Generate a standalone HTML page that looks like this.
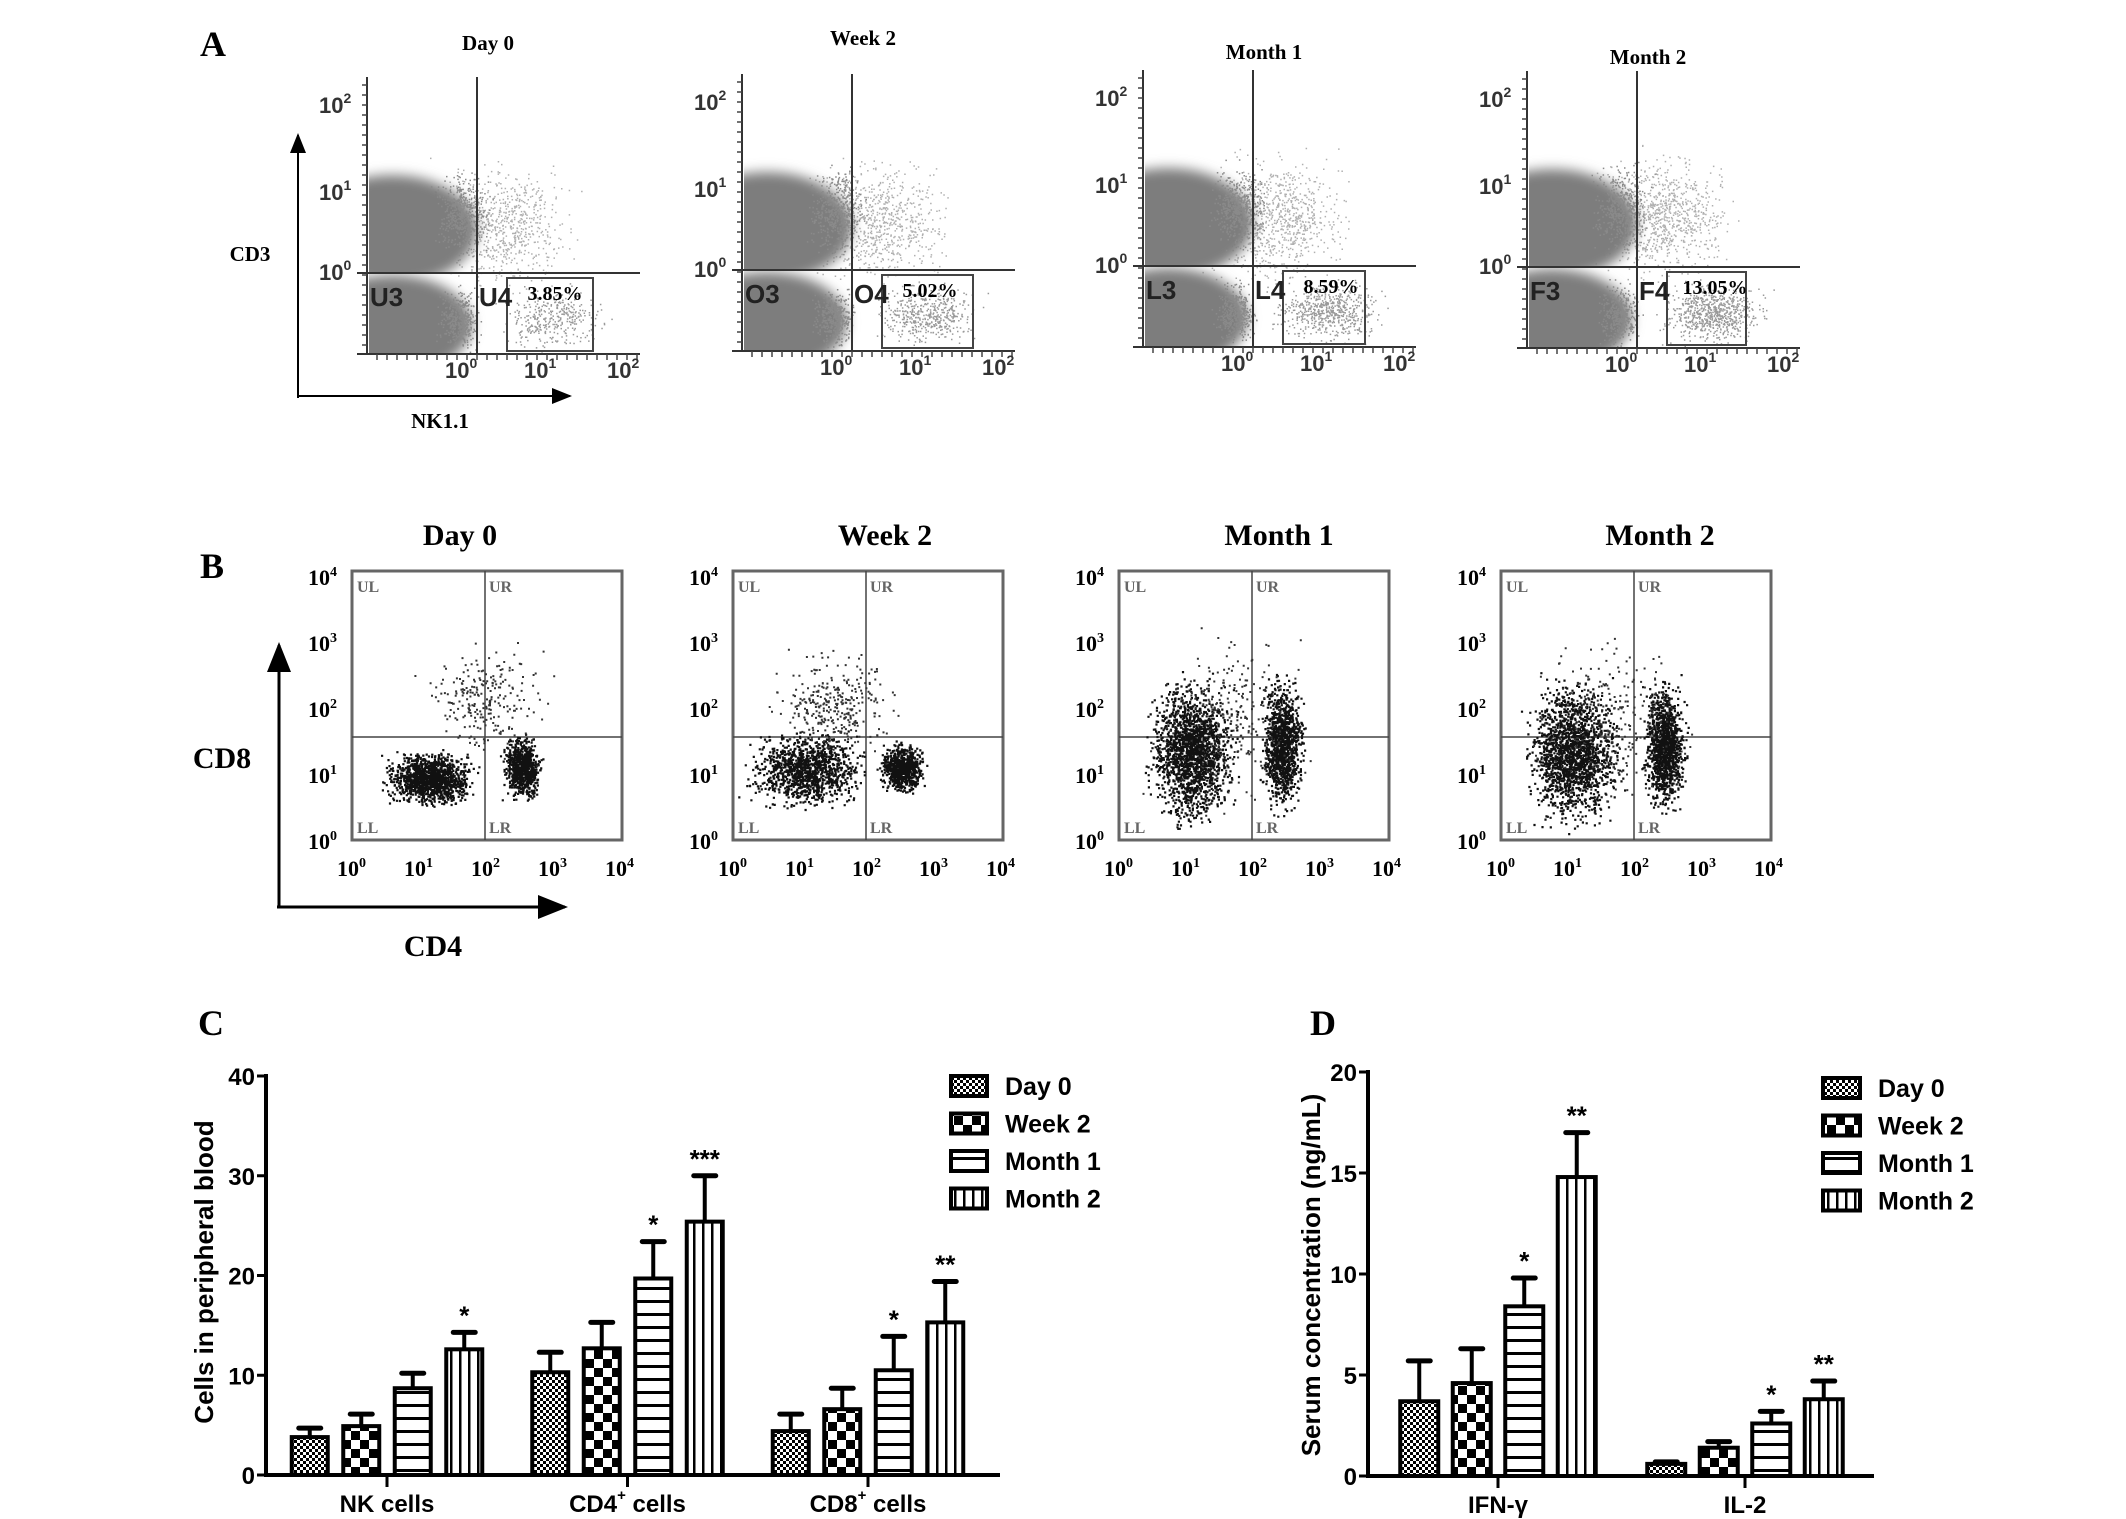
<!DOCTYPE html>
<html><head><meta charset="utf-8">
<style>
html,body{margin:0;padding:0;background:#fff;}
body{width:2126px;height:1519px;overflow:hidden;position:relative;}
svg{position:absolute;left:0;top:0;}
.serif{font-family:"Liberation Serif",serif;font-weight:bold;}
.sans{font-family:"Liberation Sans",sans-serif;font-weight:bold;}
</style></head>
<body>
<svg id="fig" width="2126" height="1519" viewBox="0 0 2126 1519">
<defs>
  <filter id="blur6" x="-50%" y="-50%" width="200%" height="200%"><feGaussianBlur stdDeviation="6"/></filter>
  <filter id="blur4" x="-50%" y="-50%" width="200%" height="200%"><feGaussianBlur stdDeviation="4"/></filter>
  <pattern id="p-day0" width="6" height="6" patternUnits="userSpaceOnUse"><rect width="6" height="6" fill="#fff"/><rect width="3" height="3" fill="#000"/><rect x="3" y="3" width="3" height="3" fill="#000"/></pattern>
  <pattern id="p-week2" width="18" height="18" patternUnits="userSpaceOnUse"><rect width="18" height="18" fill="#fff"/><rect width="9" height="9" fill="#000"/><rect x="9" y="9" width="9" height="9" fill="#000"/></pattern>
  <pattern id="p-month1" width="10" height="13" patternUnits="userSpaceOnUse"><rect width="10" height="13" fill="#fff"/><rect y="0" width="10" height="3" fill="#000"/></pattern>
  <pattern id="p-month2" width="9" height="10" patternUnits="userSpaceOnUse"><rect width="9" height="10" fill="#fff"/><rect x="0" width="2.5" height="10" fill="#000"/></pattern>
  <marker id="arr" markerWidth="10" markerHeight="8" refX="9" refY="4" orient="auto"><path d="M0,0 L10,4 L0,8 Z" fill="#000"/></marker>
</defs>

<text x="200" y="56" class="serif" font-size="36">A</text>
<text x="200" y="578" class="serif" font-size="36">B</text>
<text x="198" y="1035" class="serif" font-size="36">C</text>
<text x="1310" y="1035" class="serif" font-size="36">D</text>

<line x1="298" y1="398" x2="298" y2="135" stroke="#000" stroke-width="2" marker-end="url(#arr)"/>
<line x1="298" y1="396" x2="570" y2="396" stroke="#000" stroke-width="2" marker-end="url(#arr)"/>
<text x="250" y="261" class="serif" font-size="21" text-anchor="middle" font-weight="normal">CD3</text>
<text x="440" y="428" class="serif" font-size="21" text-anchor="middle" font-weight="normal">NK1.1</text>

<line x1="279" y1="906" x2="279" y2="645" stroke="#000" stroke-width="3" marker-end="url(#arr)"/>
<line x1="277" y1="907" x2="565" y2="907" stroke="#000" stroke-width="3" marker-end="url(#arr)"/>
<text x="222" y="768" class="serif" font-size="30" text-anchor="middle">CD8</text>
<text x="433" y="956" class="serif" font-size="30" text-anchor="middle">CD4</text>

<g id="flowA"></g>
<g id="flowB"></g>
<g id="chartC"></g>
<g id="chartD"></g>
</svg>

<script>
// ---------- Chart C data ----------
const cCategories = ["NK cells", "CD4+ cells", "CD8+ cells"];
const seriesNames = ["Day 0", "Week 2", "Month 1", "Month 2"];
const cDay0 = [3.8, 10.3, 4.4];
const cWeek2 = [4.9, 12.7, 6.6];
const cMonth1 = [8.7, 19.7, 10.5];
const cMonth2 = [12.6, 25.4, 15.3];
const cErrDay0 = [0.9, 2.0, 1.7];
const cErrWeek2 = [1.2, 2.6, 2.1];
const cErrMonth1 = [1.5, 3.7, 3.4];
const cErrMonth2 = [1.7, 4.6, 4.1];
const cStarsMonth1 = ["", "*", "*"];
const cStarsMonth2 = ["*", "***", "**"];
const cTicks = [0, 10, 20, 30, 40];

// ---------- Chart D data ----------
const dCategories = ["IFN-γ", "IL-2"];
const dDay0 = [3.7, 0.6];
const dWeek2 = [4.6, 1.4];
const dMonth1 = [8.4, 2.6];
const dMonth2 = [14.8, 3.8];
const dErrDay0 = [2.0, 0.1];
const dErrWeek2 = [1.7, 0.3];
const dErrMonth1 = [1.4, 0.6];
const dErrMonth2 = [2.2, 0.9];
const dStarsMonth1 = ["*", "*"];
const dStarsMonth2 = ["**", "**"];
const dTicks = [0, 5, 10, 15, 20];

const NS = "http://www.w3.org/2000/svg";
function mk(tag, attrs, parent) {
  const e = document.createElementNS(NS, tag);
  for (const k in attrs) e.setAttribute(k, attrs[k]);
  parent.appendChild(e);
  return e;
}
const patterns = ["url(#p-day0)", "url(#p-week2)", "url(#p-month1)", "url(#p-month2)"];

function barChart(g, cfg) {
  const yScale = v => cfg.y0 - (v / cfg.yMax) * (cfg.y0 - cfg.yTop);
  const xGroup = i => cfg.gx0 + i * cfg.gStep;
  const ya = mk("line", {x1: cfg.ax, y1: cfg.yTop - 2, x2: cfg.ax, y2: cfg.y0 + 2, stroke: "#000", "stroke-width": 4}, g);
  
  
  const xa = mk("line", {x1: cfg.ax, y1: cfg.y0, x2: cfg.axEnd, y2: cfg.y0, stroke: "#000", "stroke-width": 4}, g);
  
  
  cfg.ticks.forEach(t => {
    const y = yScale(t);
    const tl = mk("line", {x1: cfg.ax - 9, y1: y, x2: cfg.ax, y2: y, stroke: "#000", "stroke-width": 3}, g);
    
    
    const tx = mk("text", {x: cfg.ax - 11, y: y + 9, "text-anchor": "end", class: "sans", "font-size": 24}, g);
    tx.textContent = t;
    
    
  });
  const yt = mk("text", {x: 0, y: 0, "text-anchor": "middle", class: "sans", "font-size": 26, transform: `translate(${cfg.ytx},${cfg.yty}) rotate(-90)`}, g);
  yt.textContent = cfg.yTitle;
  
  
  cfg.categories.forEach((c, i) => {
    const cx = xGroup(i);
    const tk = mk("line", {x1: cx, y1: cfg.y0, x2: cx, y2: cfg.y0 + 12, stroke: "#000", "stroke-width": 3}, g);
    
    
    const lab = mk("text", {x: cx, y: cfg.y0 + 37, "text-anchor": "middle", class: "sans", "font-size": 24}, g);
    
    
    if (c.endsWith("+ cells")) {
      const base = c.replace("+ cells", "");
      lab.textContent = base;
      const sup = mk("tspan", {"font-size": 15, dy: -12}, lab); sup.textContent = "+";
      const rest = mk("tspan", {dy: 12}, lab); rest.textContent = "  cells";
    } else lab.textContent = c;
    cfg.series.forEach((vals, s) => {
      const v = vals[i], e = cfg.errs[s][i];
      const bx = cx + (s - 1.5) * cfg.pitch - cfg.bw / 2;
      const top = yScale(v);
      const eTop = yScale(v + e);
      const el = mk("line", {x1: bx + cfg.bw / 2, y1: top, x2: bx + cfg.bw / 2, y2: eTop, stroke: "#000", "stroke-width": 4}, g);
      
      
      const cap = mk("line", {x1: bx + cfg.bw / 2 - 11, y1: eTop, x2: bx + cfg.bw / 2 + 11, y2: eTop, stroke: "#000", "stroke-width": 5, "stroke-linecap": "round"}, g);
      
      
      const r = mk("rect", {x: bx, y: top, width: cfg.bw, height: cfg.y0 - top, fill: patterns[s], stroke: "#000", "stroke-width": 4}, g);
      
      
      const star = cfg.stars[s] ? cfg.stars[s][i] : "";
      if (star) {
        const st = mk("text", {x: bx + cfg.bw / 2, y: eTop - 8, "text-anchor": "middle", class: "sans", "font-size": 26}, g);
        st.textContent = star;
        
        
      }
    });
  });
  seriesNames.forEach((n, s) => {
    const y = cfg.legY + s * 37.5;
    const b = mk("rect", {x: cfg.legX, y: y - 10, width: cfg.legW, height: 20, fill: patterns[s], stroke: "#000", "stroke-width": 4}, g);
    
    
    const t = mk("text", {x: cfg.legX + cfg.legW + 18, y: y + 9, class: "sans", "font-size": 25}, g);
    t.textContent = n;
    
    
  });
}

barChart(document.getElementById("chartC"), {
  prefix: "c", categories: cCategories,
  series: [cDay0, cWeek2, cMonth1, cMonth2],
  errs: [cErrDay0, cErrWeek2, cErrMonth1, cErrMonth2],
  stars: [null, null, cStarsMonth1, cStarsMonth2],
  ticks: cTicks, yMax: 40, y0: 1475, yTop: 1076, ax: 266, axEnd: 1000,
  gx0: 387, gStep: 240.5, pitch: 51.5, bw: 36,
  ytx: 213, yty: 1272, yTitle: "Cells in peripheral blood",
  legX: 951, legY: 1086, legW: 36
});
barChart(document.getElementById("chartD"), {
  prefix: "d", categories: dCategories,
  series: [dDay0, dWeek2, dMonth1, dMonth2],
  errs: [dErrDay0, dErrWeek2, dErrMonth1, dErrMonth2],
  stars: [null, null, dStarsMonth1, dStarsMonth2],
  ticks: dTicks, yMax: 20, y0: 1476, yTop: 1072, ax: 1368, axEnd: 1874,
  gx0: 1498, gStep: 247, pitch: 52.5, bw: 38,
  ytx: 1320, yty: 1275, yTitle: "Serum concentration (ng/mL)",
  legX: 1823, legY: 1088, legW: 37
});

// ---------- Flow cytometry panels (illustrative images) ----------
let seed = 7;
function rnd() { seed = (seed * 16807) % 2147483647; return (seed - 1) / 2147483646; }
function gauss() { return (rnd() + rnd() + rnd() - 1.5) / 0.866; }
function speckle(g, cx, cy, sx, sy, n, color, size) {
  let d = "";
  for (let k = 0; k < n; k++) {
    const x = cx + gauss() * sx, y = cy + gauss() * sy;
    d += `M${x.toFixed(1)},${y.toFixed(1)}h${size}v${size}h-${size}z`;
  }
  const p = mk("path", {d: d, fill: color}, g);
  
  
}

const flowATitles = ["Day 0", "Week 2", "Month 1", "Month 2"];
const flowALabels = [["U3", "U4"], ["O3", "O4"], ["L3", "L4"], ["F3", "F4"]];
const flowAPct = ["3.85%", "5.02%", "8.59%", "13.05%"];
const flowAOffX = [0, 375, 776, 1160];
const flowAOffY = [0, -3, -7, -6];
const flowATitleY = [50, 45, 59, 64];
const flowABoxW = [86, 91, 82, 79];

const gA = document.getElementById("flowA");
const defs = document.querySelector("defs");
flowATitles.forEach((t, i) => {
  const ox = 367 + flowAOffX[i], oy = flowAOffY[i];
  const g = mk("g", {}, gA);
  
  
  const tt = mk("text", {x: ox + 121, y: flowATitleY[i], "text-anchor": "middle", class: "serif", "font-size": 21}, g);
  tt.textContent = t;
  
  
  const cu = mk("clipPath", {id: "cu" + i}, defs);
  mk("rect", {x: ox + 2, y: 120 + oy, width: 160, height: 152}, cu);
  const cl = mk("clipPath", {id: "cl" + i}, defs);
  mk("rect", {x: ox + 2, y: 274 + oy, width: 160, height: 79}, cl);
  speckle(g, ox + 135, 225 + oy, 50, 45, 700 + i * 60, "#b0b0b0", 1.5);
  speckle(g, ox + 185, 318 + oy, 38, 22, 350 + i * 120, "#999", 1.5);
  const gu = mk("g", {"clip-path": "url(#cu" + i + ")"}, g);
  
  
  mk("ellipse", {cx: ox + 25, cy: 230 + oy, rx: 85, ry: 55, fill: "#7d7d7d", filter: "url(#blur6)"}, gu);
  speckle(gu, ox + 95, 215 + oy, 20, 30, 500, "#8a8a8a", 1.5);
  const gl = mk("g", {"clip-path": "url(#cl" + i + ")"}, g);
  
  
  mk("ellipse", {cx: ox + 25, cy: 325 + oy, rx: 80, ry: 50, fill: "#7d7d7d", filter: "url(#blur6)"}, gl);
  speckle(gl, ox + 92, 320 + oy, 15, 22, 400, "#8a8a8a", 1.5);
  mk("line", {x1: ox, y1: 77 + oy, x2: ox, y2: 355 + oy, stroke: "#333", "stroke-width": 2}, g);
  mk("line", {x1: ox - 10, y1: 354 + oy, x2: ox + 273, y2: 354 + oy, stroke: "#333", "stroke-width": 2}, g);
  for (let k = 0; k < 27; k++) mk("line", {x1: ox - 5, y1: 85 + oy + k * 10, x2: ox, y2: 85 + oy + k * 10, stroke: "#444", "stroke-width": 1.5}, g);
  for (let k = 0; k < 27; k++) mk("line", {x1: ox + 10 + k * 10, y1: 354 + oy, x2: ox + 10 + k * 10, y2: 360 + oy, stroke: "#444", "stroke-width": 1.5}, g);
  mk("line", {x1: ox + 110, y1: 77 + oy, x2: ox + 110, y2: 354 + oy, stroke: "#333", "stroke-width": 2}, g);
  mk("line", {x1: ox - 10, y1: 273 + oy, x2: ox + 273, y2: 273 + oy, stroke: "#333", "stroke-width": 2}, g);
  mk("rect", {x: ox + 140, y: 278 + oy, width: flowABoxW[i], height: 73, fill: "none", stroke: "#444", "stroke-width": 2}, g);
  [["10", "2", 113], ["10", "1", 200], ["10", "0", 280]].forEach(([b, e, y]) => {
    const tx = mk("text", {x: ox - 48, y: y + oy, class: "sans", "font-size": 22, "font-weight": "normal", fill: "#333"}, g);
    tx.textContent = b;
    const sp = mk("tspan", {"font-size": 14, dy: -10}, tx); sp.textContent = e;
    
    
  });
  [["10", "0", 78], ["10", "1", 157], ["10", "2", 240]].forEach(([b, e, x]) => {
    const tx = mk("text", {x: ox + x, y: 378 + oy, class: "sans", "font-size": 22, "font-weight": "normal", fill: "#333"}, g);
    tx.textContent = b;
    const sp = mk("tspan", {"font-size": 14, dy: -10}, tx); sp.textContent = e;
    
    
  });
  const l3 = mk("text", {x: ox + 3, y: 306 + oy, class: "sans", "font-size": 26, fill: "#222"}, g);
  l3.textContent = flowALabels[i][0];
  
  
  const l4 = mk("text", {x: ox + 112, y: 306 + oy, class: "sans", "font-size": 26, fill: "#222"}, g);
  l4.textContent = flowALabels[i][1];
  
  
  const pc = mk("text", {x: ox + 188, y: 300 + oy, class: "serif", "font-size": 20, "text-anchor": "middle"}, g);
  pc.textContent = flowAPct[i];
  
  
});

const flowBTitles = ["Day 0", "Week 2", "Month 1", "Month 2"];
const flowBOffX = [0, 381, 767, 1149];
const flowBTitleX = [460, 885, 1279, 1660];
const gB = document.getElementById("flowB");
flowBTitles.forEach((t, i) => {
  const ox = 352 + flowBOffX[i];
  const g = mk("g", {}, gB);
  
  
  const tt = mk("text", {x: flowBTitleX[i], y: 545, "text-anchor": "middle", class: "serif", "font-size": 30}, g);
  tt.textContent = t;
  
  
  mk("rect", {x: ox, y: 571, width: 270, height: 269, fill: "none", stroke: "#666", "stroke-width": 3}, g);
  mk("line", {x1: ox + 133, y1: 571, x2: ox + 133, y2: 840, stroke: "#444", "stroke-width": 1.5}, g);
  mk("line", {x1: ox, y1: 737, x2: ox + 270, y2: 737, stroke: "#444", "stroke-width": 1.5}, g);
  if (i === 0) {
    speckle(g, ox + 78, 778, 30, 19, 1300, "#111", 2.2);
    speckle(g, ox + 170, 768, 13, 22, 800, "#111", 2.2);
    speckle(g, ox + 130, 700, 45, 40, 240, "#333", 2);
  } else if (i === 1) {
    speckle(g, ox + 72, 770, 40, 27, 1200, "#111", 2.2);
    speckle(g, ox + 168, 768, 16, 17, 750, "#111", 2.2);
    speckle(g, ox + 100, 705, 45, 40, 320, "#333", 2);
  } else {
    const big = i === 3 ? 1.1 : 1;
    speckle(g, ox + 72, 752, 30 * big, 50, 1800, "#111", 2.2);
    speckle(g, ox + 163, 745, 15, 44, 1200, "#111", 2.2);
    speckle(g, ox + 110, 720, 55, 60, 250, "#333", 2);
  }
  ["UL", "UR", "LL", "LR"].forEach((q, k) => {
    const qx = ox + (k % 2 ? 137 : 5), qy = k < 2 ? 592 : 833;
    const tx = mk("text", {x: qx, y: qy, class: "serif", "font-size": 16, "font-weight": "normal", fill: "#666"}, g);
    tx.textContent = q;
    
    
  });
  ["4", "3", "2", "1", "0"].forEach((e, k) => {
    const y = 585 + k * 66;
    const tx = mk("text", {x: ox - 44, y: y, class: "serif", "font-size": 22, "font-weight": "normal"}, g);
    tx.textContent = "10";
    const sp = mk("tspan", {"font-size": 14, dy: -9}, tx); sp.textContent = e;
    
    
  });
  ["0", "1", "2", "3", "4"].forEach((e, k) => {
    const x = ox - 15 + k * 67;
    const tx = mk("text", {x: x, y: 876, class: "serif", "font-size": 22, "font-weight": "normal"}, g);
    tx.textContent = "10";
    const sp = mk("tspan", {"font-size": 14, dy: -9}, tx); sp.textContent = e;
    
    
  });
});
</script>
</body></html>
